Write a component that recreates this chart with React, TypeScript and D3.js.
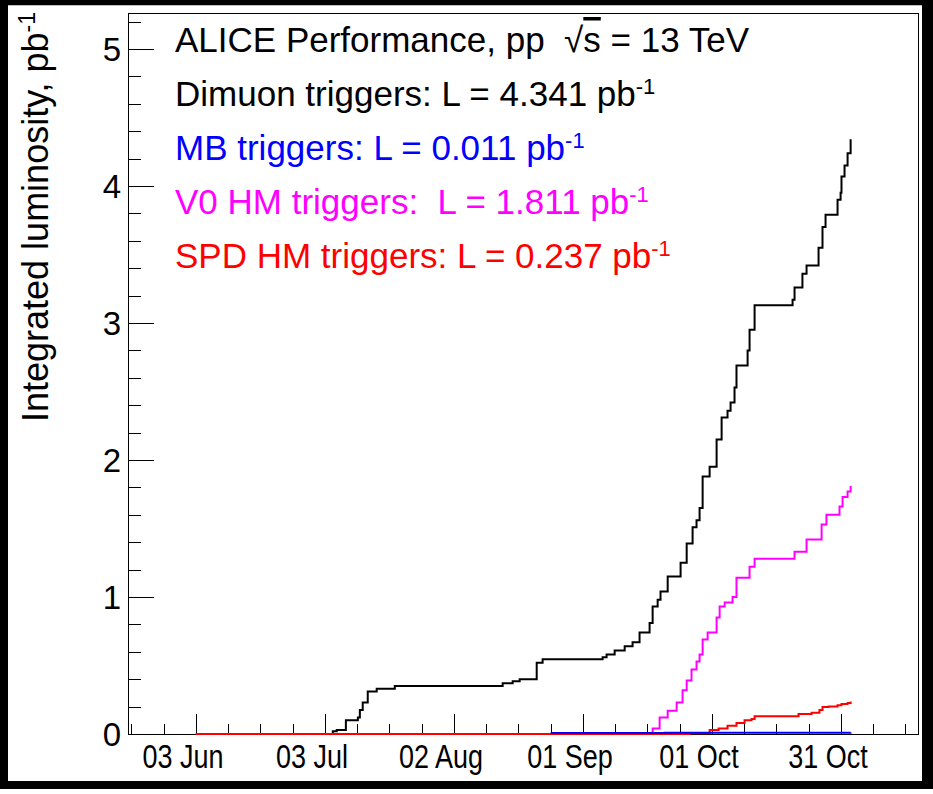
import React from 'react';
import * as d3 from 'd3';

const parse = d3.utcParse('%Y-%m-%d %H');

// axis ranges
const xDomain = ['2016-05-18 05', '2016-11-17 22'];
const yDomain = [0, 5.263];

// tick labels
const xTickDates = ['2016-06-03 00', '2016-07-03 00', '2016-08-02 00', '2016-09-01 00', '2016-10-01 00', '2016-10-31 00'];
const xTickLabels = ['03 Jun', '03 Jul', '02 Aug', '01 Sep', '01 Oct', '31 Oct'];
const yTicks = [0, 1, 2, 3, 4, 5];

// Dimuon triggers (black)
const dimuonDates = [
  '2016-06-03 00', '2016-07-04 20', '2016-07-05 18', '2016-07-07 21', '2016-07-10 16', '2016-07-11 03',
  '2016-07-11 19', '2016-07-12 23', '2016-07-15 01', '2016-07-19 06', '2016-08-13 08', '2016-08-15 16',
  '2016-08-17 07', '2016-08-21 06', '2016-08-22 15', '2016-09-05 14', '2016-09-06 12', '2016-09-08 09',
  '2016-09-10 17', '2016-09-12 13', '2016-09-14 04', '2016-09-16 12', '2016-09-17 05', '2016-09-18 09',
  '2016-09-19 01', '2016-09-20 17', '2016-09-23 17', '2016-09-25 03', '2016-09-26 12', '2016-09-27 10',
  '2016-09-28 03', '2016-09-28 20', '2016-09-30 11', '2016-10-02 02', '2016-10-03 06', '2016-10-04 15',
  '2016-10-05 08', '2016-10-06 06', '2016-10-06 17', '2016-10-09 07', '2016-10-09 18', '2016-10-10 22',
  '2016-10-19 18', '2016-10-20 05', '2016-10-22 01', '2016-10-23 00', '2016-10-25 19', '2016-10-26 17',
  '2016-10-27 10', '2016-10-30 05', '2016-10-30 22', '2016-10-31 03', '2016-10-31 20', '2016-11-01 13',
  '2016-11-02 06',
];
const dimuonValues = [
  0, 0.02, 0.03, 0.1, 0.12, 0.175,
  0.23, 0.31, 0.33, 0.35, 0.37, 0.385,
  0.4, 0.52, 0.545, 0.56, 0.58, 0.61,
  0.64, 0.67, 0.74, 0.81, 0.93, 0.98,
  1.04, 1.15, 1.25, 1.39, 1.51, 1.56,
  1.65, 1.88, 1.95, 2.15, 2.31, 2.36,
  2.42, 2.53, 2.69, 2.8, 2.95, 3.13,
  3.17, 3.26, 3.36, 3.42, 3.55, 3.7,
  3.79, 3.9, 3.95, 4.07, 4.15, 4.24,
  4.341,
];

// V0 HM triggers (magenta)
const v0Dates = [
  '2016-06-03 00', '2016-09-17 05', '2016-09-18 20', '2016-09-20 17', '2016-09-22 19', '2016-09-24 04',
  '2016-09-25 03', '2016-09-26 06', '2016-09-27 10', '2016-09-28 03', '2016-09-28 20', '2016-09-30 00',
  '2016-10-02 02', '2016-10-02 19', '2016-10-03 23', '2016-10-05 19', '2016-10-06 17', '2016-10-09 18',
  '2016-10-10 22', '2016-10-20 05', '2016-10-23 00', '2016-10-26 12', '2016-10-27 15', '2016-10-30 16',
  '2016-10-31 09', '2016-11-01 13', '2016-11-02 06',
];
const v0Values = [
  0, 0.04, 0.12, 0.17, 0.23, 0.32,
  0.39, 0.47, 0.53, 0.58, 0.69, 0.74,
  0.85, 0.93, 0.96, 1.0, 1.14, 1.22,
  1.28, 1.33, 1.42, 1.53, 1.6, 1.66,
  1.73, 1.77, 1.811,
];

// SPD HM triggers (red)
const spdDates = [
  '2016-06-03 00', '2016-09-25 19', '2016-09-30 11', '2016-10-02 13', '2016-10-04 15', '2016-10-06 17',
  '2016-10-08 14', '2016-10-10 05', '2016-10-10 22', '2016-10-21 03', '2016-10-24 04', '2016-10-26 00',
  '2016-10-26 17', '2016-10-28 03', '2016-10-30 05', '2016-10-31 03', '2016-11-01 13', '2016-11-02 06',
];
const spdValues = [
  0, 0.005, 0.03, 0.04, 0.06, 0.08,
  0.1, 0.11, 0.13, 0.146, 0.155, 0.175,
  0.197, 0.2, 0.21, 0.219, 0.226, 0.237,
];

// MB triggers (blue)
const mbDates = ['2016-08-24 12', '2016-09-20 00', '2016-10-10 00', '2016-11-02 06'];
const mbValues = [0.008, 0.009, 0.01, 0.011];

const FONT = '"Liberation Sans", Arial, Helvetica, sans-serif';

export default function App() {
  const W = 933;
  const H = 794;
  const left = 128;
  const right = 918;
  const top = 13;
  const bottom = 734;

  const x = d3.scaleUtc().domain(xDomain.map((s) => parse(s) as Date)).range([left, right]);
  const y = d3.scaleLinear().domain(yDomain).range([bottom, top]);

  const line = d3
    .line<{ t: Date; v: number }>()
    .x((d) => x(d.t))
    .y((d) => y(d.v))
    .curve(d3.curveStepAfter);

  const mk = (dates: string[], vals: number[]) => dates.map((s, i) => ({ t: parse(s) as Date, v: vals[i] }));

  const series = [
    { data: mk(dimuonDates, dimuonValues), color: '#000000' },
    { data: mk(v0Dates, v0Values), color: '#ff00ff' },
    { data: mk(spdDates, spdValues), color: '#ff0000' },
    { data: mk(mbDates, mbValues), color: '#0000ff' },
  ];

  // x ticks: majors every 30 days, minors every 7.5 days
  const majorX = xTickDates.map((s) => parse(s) as Date);
  const dayMs = 86400000;
  const [d0, d1] = x.domain();
  const minorX: Date[] = [];
  for (let k = -40; k <= 40; k++) {
    const t = new Date(majorX[0].getTime() + k * 7.5 * dayMs);
    if (t >= d0 && t <= d1) minorX.push(t);
  }
  const minorY = d3.range(0, 5.3, 0.2).filter((v) => v <= yDomain[1]);

  const fs = 33;
  const lfs = 35;
  const legendX = 175;
  const legendY = [52, 106, 160, 214, 268];

  const sup = (txt: string, size = 22, dy = -12) => (
    <tspan fontSize={size} dy={dy}>{txt}</tspan>
  );

  return (
    <svg width={W} height={H} style={{ position: 'absolute', left: 0, top: 0, background: '#fff' }} fontFamily={FONT}>
      <rect x={0} y={0} width={W} height={H} fill="#fff" />
      {/* outer black border */}
      <rect x={0} y={0} width={W} height={5.5} fill="#000" />
      <rect x={0} y={0} width={8} height={789} fill="#000" />
      <rect x={922} y={0} width={11} height={789} fill="#000" />
      <rect x={0} y={781} width={W} height={8} fill="#000" />
      <rect x={8} y={5.5} width={914} height={775.5} fill="#fff" />

      {/* frame */}
      <rect x={left + 0.5} y={top + 0.5} width={right - left} height={bottom - top} fill="none" stroke="#000" strokeWidth={1} />

      {/* x ticks */}
      {minorX.map((t, i) => (
        <line key={'mx' + i} x1={Math.round(x(t)) + 0.5} x2={Math.round(x(t)) + 0.5} y1={bottom} y2={bottom - 10} stroke="#000" strokeWidth={1} />
      ))}
      {majorX.map((t, i) => (
        <line key={'Mx' + i} x1={Math.round(x(t)) + 0.5} x2={Math.round(x(t)) + 0.5} y1={bottom} y2={bottom - 20} stroke="#000" strokeWidth={1} />
      ))}
      {majorX.map((t, i) => (
        <text
          key={'lx' + i}
          transform={`translate(${x(t) - 13},768) scale(0.83,1)`}
          fontSize={32.5}
          textAnchor="middle"
          fill="#000"
        >
          {xTickLabels[i]}
        </text>
      ))}

      {/* y ticks */}
      {minorY.map((v, i) => (
        <line key={'my' + i} x1={left} x2={left + 13} y1={Math.round(y(v)) + 0.5} y2={Math.round(y(v)) + 0.5} stroke="#000" strokeWidth={1} />
      ))}
      {yTicks.map((v, i) => (
        <line key={'My' + i} x1={left} x2={left + 26} y1={Math.round(y(v)) + 0.5} y2={Math.round(y(v)) + 0.5} stroke="#000" strokeWidth={1} />
      ))}
      {yTicks.map((v, i) => (
        <text key={'ly' + i} x={121} y={y(v) + 12} fontSize={fs} textAnchor="end" fill="#000">
          {v}
        </text>
      ))}

      {/* y axis title */}
      <text transform="translate(48,12) rotate(-90)" fontSize={36} textAnchor="end" fill="#000">
        Integrated luminosity, pb{sup('-1', 23, -13)}
      </text>

      {/* curves */}
      {series.map((s, i) => (
        <path key={'s' + i} d={line(s.data) || ''} fill="none" stroke={s.color} strokeWidth={2} />
      ))}

      {/* legend text */}
      <text x={legendX} y={legendY[0]} fontSize={lfs} fill="#000" style={{ whiteSpace: 'pre' }}>
        {'ALICE Performance, pp  '}
        <tspan>√</tspan>
        <tspan style={{ textDecoration: 'overline' }}>s</tspan>
        {' = 13 TeV'}
      </text>
      <text x={legendX} y={legendY[1]} fontSize={lfs} fill="#000" style={{ whiteSpace: 'pre' }}>
        {'Dimuon triggers: L = 4.341 pb'}
        {sup('-1')}
      </text>
      <text x={legendX} y={legendY[2]} fontSize={lfs} fill="#0000ff" style={{ whiteSpace: 'pre' }}>
        {'MB triggers: L = 0.011 pb'}
        {sup('-1')}
      </text>
      <text x={legendX} y={legendY[3]} fontSize={lfs} fill="#ff00ff" style={{ whiteSpace: 'pre' }}>
        {'V0 HM triggers:  L = 1.811 pb'}
        {sup('-1')}
      </text>
      <text x={legendX} y={legendY[4]} fontSize={lfs} fill="#ff0000" style={{ whiteSpace: 'pre' }}>
        {'SPD HM triggers: L = 0.237 pb'}
        {sup('-1')}
      </text>
    </svg>
  );
}
